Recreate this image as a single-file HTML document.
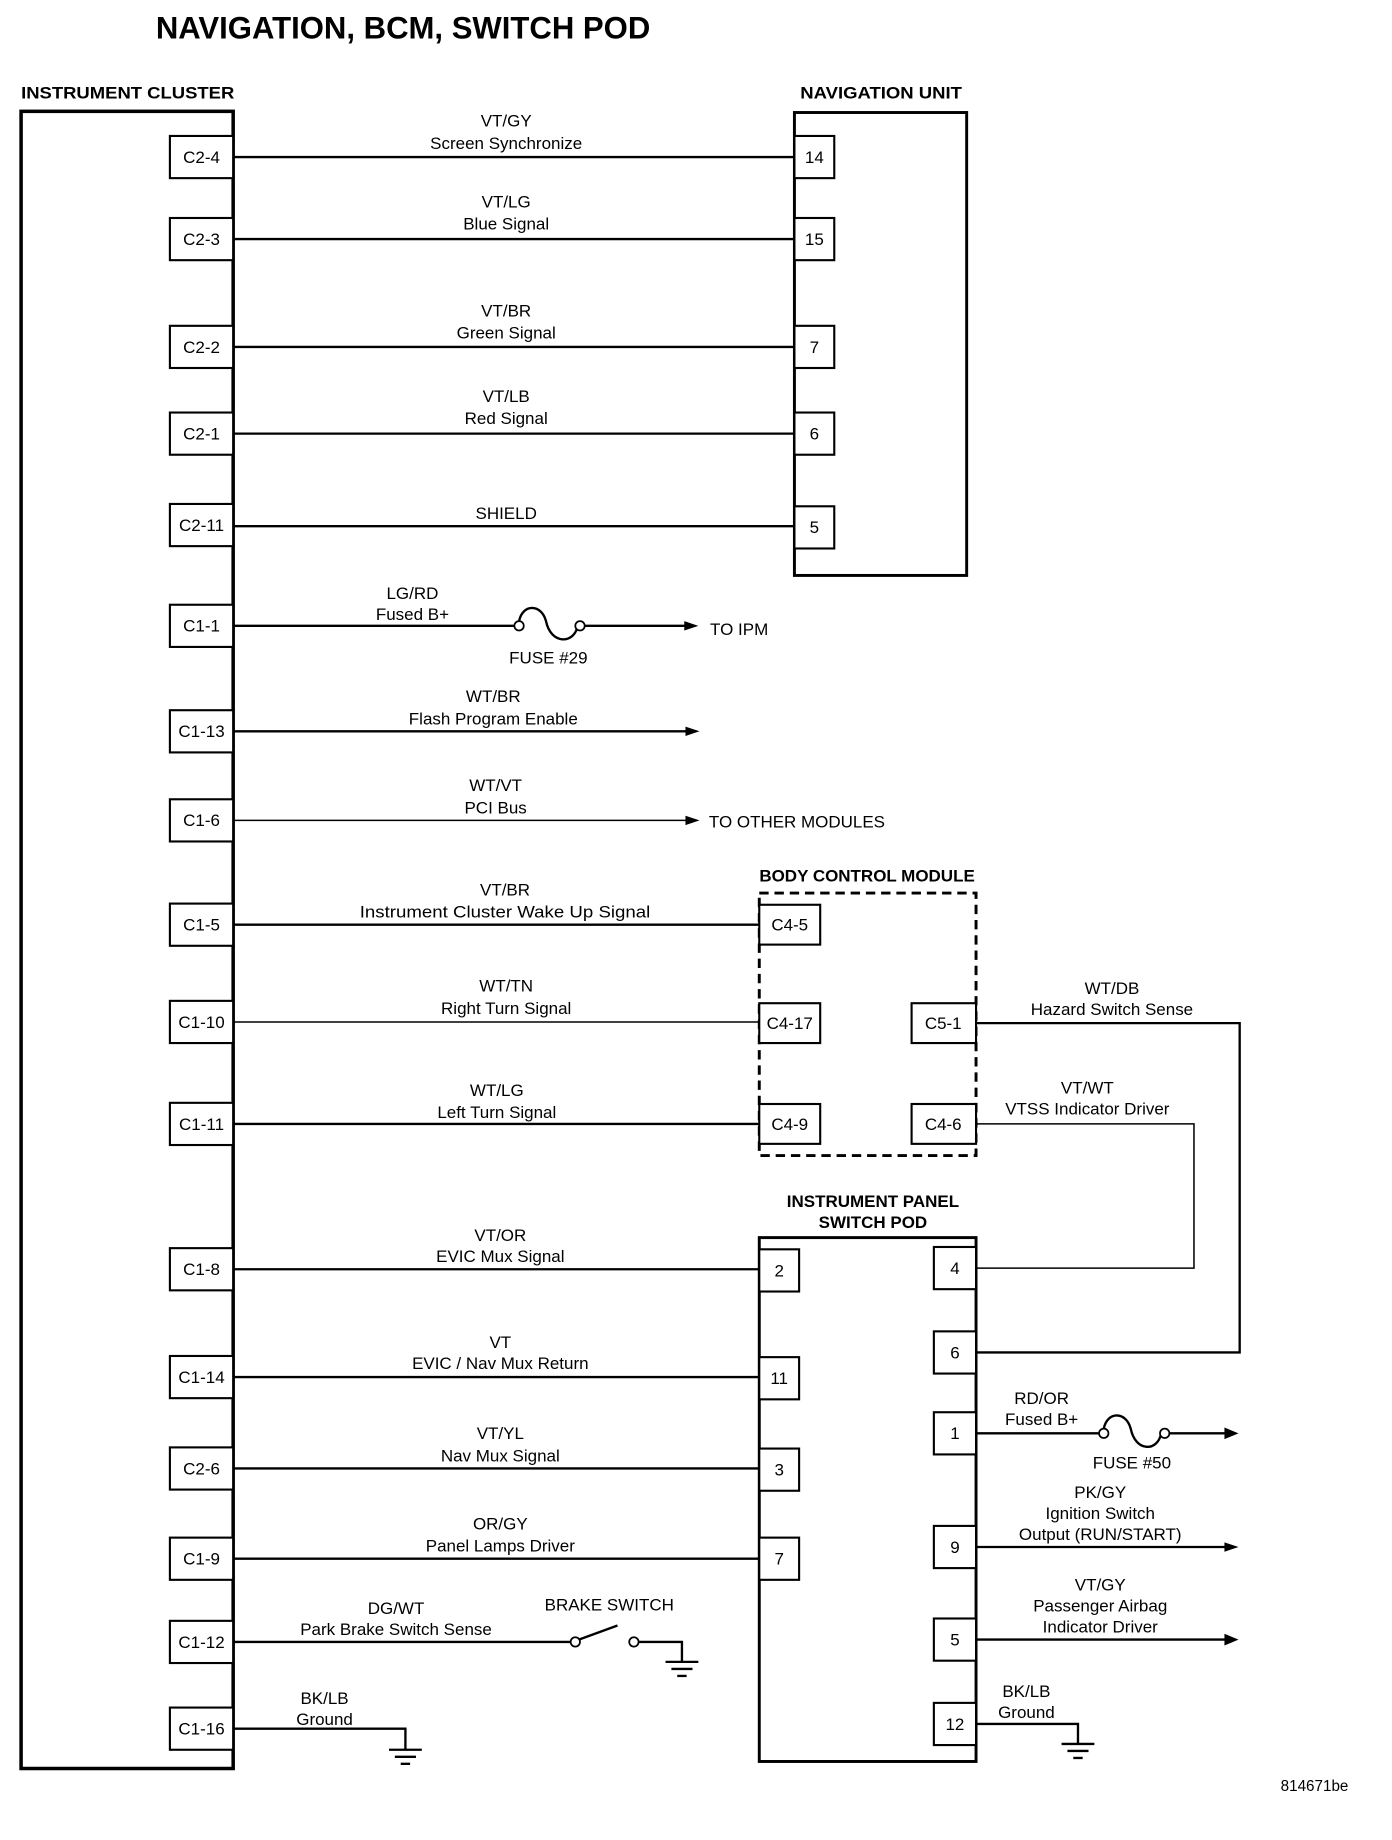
<!DOCTYPE html>
<html><head><meta charset="utf-8"><style>
html,body{margin:0;padding:0;background:#fff;width:1392px;height:1840px;overflow:hidden}
svg{display:block}
text{font-family:"Liberation Sans",sans-serif;fill:#000}
.l{font-size:14.5px;text-anchor:middle}
.b{font-weight:bold}
.p{font-size:14.5px;text-anchor:middle}
</style></head><body>
<svg width="1392" height="1840" viewBox="0 0 1188 1570" preserveAspectRatio="none" xmlns="http://www.w3.org/2000/svg">
<text x="133" y="33" font-size="27" font-weight="bold" textLength="422" lengthAdjust="spacingAndGlyphs">NAVIGATION, BCM, SWITCH POD</text>
<text x="18" y="84" font-size="14" font-weight="bold" textLength="182" lengthAdjust="spacingAndGlyphs">INSTRUMENT CLUSTER</text>
<text x="683" y="84" font-size="14" font-weight="bold" textLength="138" lengthAdjust="spacingAndGlyphs">NAVIGATION UNIT</text>
<text x="740" y="752" class="l b" font-size="14.5">BODY CONTROL MODULE</text>
<text x="745" y="1030" class="l b">INSTRUMENT PANEL</text>
<text x="745" y="1048" class="l b">SWITCH POD</text>

<g stroke="#000" fill="none" stroke-width="2">
<rect x="18" y="95" width="181" height="1414" stroke-width="3"/>
<rect x="678" y="96" width="147" height="395" stroke-width="2.5"/>
<rect x="648" y="762" width="185" height="224" stroke-dasharray="8,5" stroke-width="2.5"/>
<rect x="648" y="1056" width="185" height="447" stroke-width="2.5"/>
</g>

<g stroke="#000" fill="#fff" stroke-width="1.8">
<rect x="145" y="116" width="54" height="36"/>
<rect x="145" y="186" width="54" height="36"/>
<rect x="145" y="278" width="54" height="36"/>
<rect x="145" y="352" width="54" height="36"/>
<rect x="145" y="430" width="54" height="36"/>
<rect x="145" y="516" width="54" height="36"/>
<rect x="145" y="606" width="54" height="36"/>
<rect x="145" y="682" width="54" height="36"/>
<rect x="145" y="771" width="54" height="36"/>
<rect x="145" y="854" width="54" height="36"/>
<rect x="145" y="941" width="54" height="36"/>
<rect x="145" y="1065" width="54" height="36"/>
<rect x="145" y="1157" width="54" height="36"/>
<rect x="145" y="1235" width="54" height="36"/>
<rect x="145" y="1312" width="54" height="36"/>
<rect x="145" y="1383" width="54" height="36"/>
<rect x="145" y="1457" width="54" height="36"/>
<rect x="678" y="116" width="34" height="36"/>
<rect x="678" y="186" width="34" height="36"/>
<rect x="678" y="278" width="34" height="36"/>
<rect x="678" y="352" width="34" height="36"/>
<rect x="678" y="432" width="34" height="36"/>
<rect x="648" y="772" width="52" height="34"/>
<rect x="648" y="856" width="52" height="34"/>
<rect x="648" y="942" width="52" height="34"/>
<rect x="778" y="856" width="55" height="34"/>
<rect x="778" y="942" width="55" height="34"/>
<rect x="648" y="1066" width="34" height="36"/>
<rect x="648" y="1158" width="34" height="36"/>
<rect x="648" y="1236" width="34" height="36"/>
<rect x="648" y="1312" width="34" height="36"/>
<rect x="797" y="1064" width="36" height="36"/>
<rect x="797" y="1136" width="36" height="36"/>
<rect x="797" y="1205" width="36" height="36"/>
<rect x="797" y="1302" width="36" height="36"/>
<rect x="797" y="1381" width="36" height="36"/>
<rect x="797" y="1453" width="36" height="36"/>
</g>

<g stroke="#000" fill="none" stroke-width="2">
<line x1="199" y1="134" x2="678" y2="134"/>
<line x1="199" y1="204" x2="678" y2="204"/>
<line x1="199" y1="296" x2="678" y2="296"/>
<line x1="199" y1="370" x2="678" y2="370"/>
<line x1="199" y1="449" x2="678" y2="449"/>
<line x1="199" y1="534" x2="439" y2="534"/>
<path d="M443 530 C446 515,462 515,466 530 C470 550,490 550,493 534"/>
<line x1="498" y1="534" x2="586" y2="534"/>
<line x1="199" y1="624" x2="588" y2="624"/>
<line x1="199" y1="700" x2="588" y2="700" stroke-width="1.3"/>
<line x1="199" y1="789" x2="648" y2="789"/>
<line x1="199" y1="872" x2="648" y2="872" stroke-width="1.3"/>
<line x1="199" y1="959" x2="648" y2="959"/>
<polyline points="833,873 1058,873 1058,1154 833,1154"/>
<polyline points="833,959 1019,959 1019,1082 833,1082" stroke-width="1.3"/>
<line x1="199" y1="1083" x2="648" y2="1083"/>
<line x1="199" y1="1175" x2="648" y2="1175"/>
<line x1="199" y1="1253" x2="648" y2="1253"/>
<line x1="199" y1="1330" x2="648" y2="1330"/>
<line x1="199" y1="1401" x2="487" y2="1401"/>
<line x1="494" y1="1399" x2="527" y2="1387"/>
<polyline points="545,1401 582,1401 582,1418"/>
<polyline points="199,1475 346,1475 346,1493"/>
<line x1="833" y1="1223" x2="938" y2="1223"/>
<path d="M942 1219 C945 1204,961 1204,965 1219 C969 1239,988 1239,991 1223"/>
<line x1="996" y1="1223" x2="1046" y2="1223"/>
<line x1="833" y1="1320" x2="1046" y2="1320"/>
<line x1="833" y1="1399" x2="1046" y2="1399"/>
<polyline points="833,1471 920,1471 920,1488"/>
</g>
<g stroke="#000" fill="#fff" stroke-width="1.5">
<circle cx="443" cy="534" r="4"/><circle cx="495" cy="534" r="4"/>
<circle cx="491" cy="1401" r="4"/><circle cx="541" cy="1401" r="4"/>
<circle cx="942" cy="1223" r="4"/><circle cx="994" cy="1223" r="4"/>
</g>
<g fill="#000">
<path d="M596 534 l-12 -4 v8z"/>
<path d="M597 624 l-12 -4 v8z"/>
<path d="M597 700 l-12 -4 v8z"/>
<path d="M1057 1223 l-12 -5 v10z"/>
<path d="M1057 1320 l-12 -4 v8z"/>
<path d="M1057 1399 l-12 -5 v10z"/>
</g>
<g stroke="#000" stroke-width="2">
<line x1="568" y1="1418" x2="596" y2="1418"/><line x1="573" y1="1424" x2="591" y2="1424"/><line x1="578" y1="1430" x2="586" y2="1430"/>
<line x1="332" y1="1493" x2="360" y2="1493"/><line x1="337" y1="1499" x2="355" y2="1499"/><line x1="342" y1="1505" x2="350" y2="1505"/>
<line x1="906" y1="1488" x2="934" y2="1488"/><line x1="911" y1="1494" x2="929" y2="1494"/><line x1="916" y1="1500" x2="924" y2="1500"/>
</g>

<text x="172" y="139" class="p">C2-4</text>
<text x="172" y="209" class="p">C2-3</text>
<text x="172" y="301" class="p">C2-2</text>
<text x="172" y="375" class="p">C2-1</text>
<text x="172" y="453" class="p">C2-11</text>
<text x="172" y="539" class="p">C1-1</text>
<text x="172" y="629" class="p">C1-13</text>
<text x="172" y="705" class="p">C1-6</text>
<text x="172" y="794" class="p">C1-5</text>
<text x="172" y="877" class="p">C1-10</text>
<text x="172" y="964" class="p">C1-11</text>
<text x="172" y="1088" class="p">C1-8</text>
<text x="172" y="1180" class="p">C1-14</text>
<text x="172" y="1258" class="p">C2-6</text>
<text x="172" y="1335" class="p">C1-9</text>
<text x="172" y="1406" class="p">C1-12</text>
<text x="172" y="1480" class="p">C1-16</text>
<text x="695" y="139" class="p">14</text>
<text x="695" y="209" class="p">15</text>
<text x="695" y="301" class="p">7</text>
<text x="695" y="375" class="p">6</text>
<text x="695" y="455" class="p">5</text>
<text x="674" y="794" class="p">C4-5</text>
<text x="674" y="878" class="p">C4-17</text>
<text x="674" y="964" class="p">C4-9</text>
<text x="805" y="878" class="p">C5-1</text>
<text x="805" y="964" class="p">C4-6</text>
<text x="665" y="1089" class="p">2</text>
<text x="665" y="1181" class="p">11</text>
<text x="665" y="1259" class="p">3</text>
<text x="665" y="1335" class="p">7</text>
<text x="815" y="1087" class="p">4</text>
<text x="815" y="1159" class="p">6</text>
<text x="815" y="1228" class="p">1</text>
<text x="815" y="1325" class="p">9</text>
<text x="815" y="1404" class="p">5</text>
<text x="815" y="1476" class="p">12</text>

<text x="432" y="108" class="l">VT/GY</text><text x="432" y="127" class="l">Screen Synchronize</text>
<text x="432" y="177" class="l">VT/LG</text><text x="432" y="196" class="l">Blue Signal</text>
<text x="432" y="270" class="l">VT/BR</text><text x="432" y="289" class="l">Green Signal</text>
<text x="432" y="343" class="l">VT/LB</text><text x="432" y="362" class="l">Red Signal</text>
<text x="432" y="443" class="l">SHIELD</text>
<text x="352" y="511" class="l">LG/RD</text><text x="352" y="529" class="l">Fused B+</text>
<text x="468" y="566" class="l">FUSE #29</text>
<text x="606" y="542" font-size="14.5">TO IPM</text>
<text x="421" y="599" class="l">WT/BR</text><text x="421" y="618" class="l">Flash Program Enable</text>
<text x="423" y="675" class="l">WT/VT</text><text x="423" y="694" class="l">PCI Bus</text>
<text x="605" y="706" font-size="14.5">TO OTHER MODULES</text>
<text x="431" y="764" class="l">VT/BR</text><text x="431" y="783" class="l" textLength="248" lengthAdjust="spacingAndGlyphs">Instrument Cluster Wake Up Signal</text>
<text x="432" y="846" class="l">WT/TN</text><text x="432" y="865" class="l">Right Turn Signal</text>
<text x="424" y="935" class="l">WT/LG</text><text x="424" y="954" class="l">Left Turn Signal</text>
<text x="949" y="848" class="l">WT/DB</text><text x="949" y="866" class="l">Hazard Switch Sense</text>
<text x="928" y="933" class="l">VT/WT</text><text x="928" y="951" class="l">VTSS Indicator Driver</text>
<text x="427" y="1059" class="l">VT/OR</text><text x="427" y="1077" class="l">EVIC Mux Signal</text>
<text x="427" y="1150" class="l">VT</text><text x="427" y="1168" class="l">EVIC / Nav Mux Return</text>
<text x="427" y="1228" class="l">VT/YL</text><text x="427" y="1247" class="l">Nav Mux Signal</text>
<text x="427" y="1305" class="l">OR/GY</text><text x="427" y="1324" class="l">Panel Lamps Driver</text>
<text x="338" y="1377" class="l">DG/WT</text><text x="338" y="1395" class="l">Park Brake Switch Sense</text>
<text x="520" y="1374" class="l">BRAKE SWITCH</text>
<text x="277" y="1454" class="l">BK/LB</text><text x="277" y="1472" class="l">Ground</text>
<text x="889" y="1198" class="l">RD/OR</text><text x="889" y="1216" class="l">Fused B+</text>
<text x="966" y="1253" class="l">FUSE #50</text>
<text x="939" y="1278" class="l">PK/GY</text><text x="939" y="1296" class="l">Ignition Switch</text><text x="939" y="1314" class="l">Output (RUN/START)</text>
<text x="939" y="1357" class="l">VT/GY</text><text x="939" y="1375" class="l">Passenger Airbag</text><text x="939" y="1393" class="l">Indicator Driver</text>
<text x="876" y="1448" class="l">BK/LB</text><text x="876" y="1466" class="l">Ground</text>
<text x="1093" y="1528" font-size="13">814671be</text>
</svg>
</body></html>
